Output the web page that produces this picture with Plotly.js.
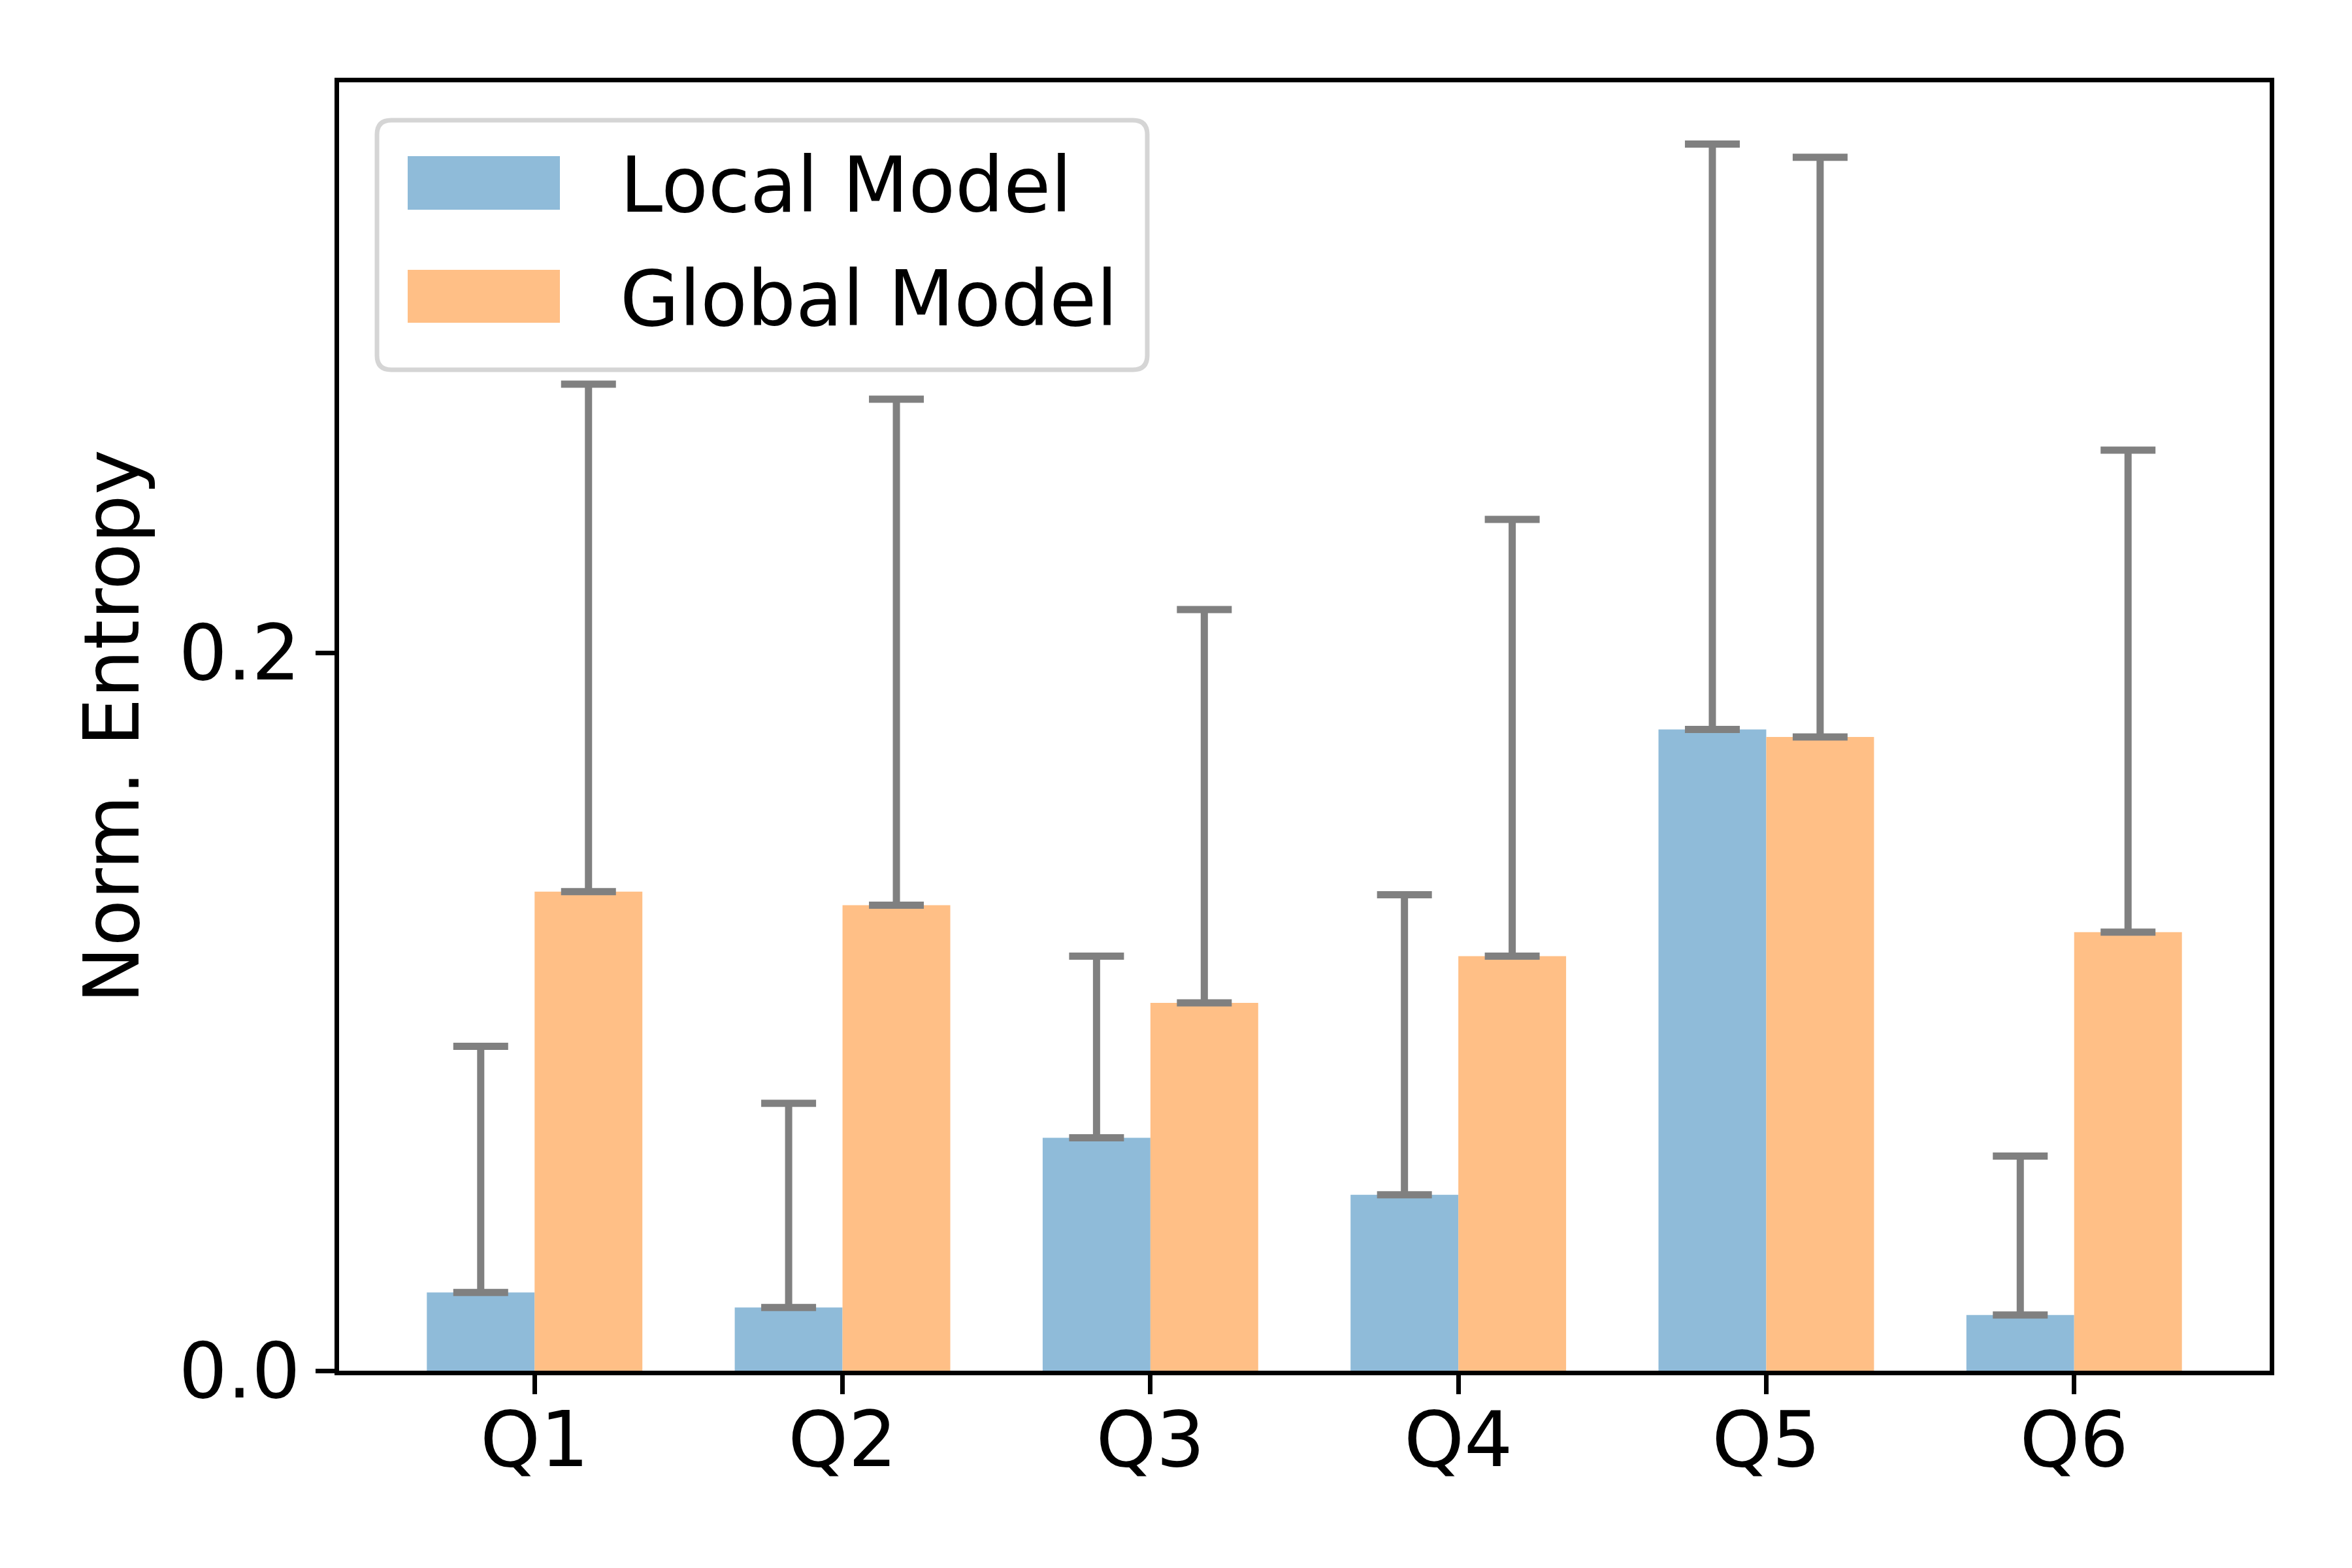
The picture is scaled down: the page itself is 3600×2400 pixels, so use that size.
<!DOCTYPE html>
<html>
<head>
<meta charset="utf-8">
<script src="https://cdn.plot.ly/plotly-3.0.1.min.js"></script>
<style>
html,body{margin:0;padding:0;background:#fff;}
#chart{width:3600px;height:2400px;}
</style>
</head>
<body>
<div id="chart"></div>
<script>
// ---- data ----
const categories = ["Q1", "Q2", "Q3", "Q4", "Q5", "Q6"];
const seriesNames = ["Local Model", "Global Model"];
const localMean = [0.0218, 0.0176, 0.0649, 0.0490, 0.1787, 0.0155];
const localErr  = [0.0686, 0.0569, 0.0506, 0.0836, 0.1631, 0.0443];
const globalMean = [0.1335, 0.1297, 0.1025, 0.1155, 0.1766, 0.1222];
const globalErr  = [0.1414, 0.1410, 0.1096, 0.1217, 0.1615, 0.1343];
const yTickVals = [0.0, 0.2];
const yTickText = ["0.0", "0.2"];

// ---- style ----
const blue = "#8fbbd9";
const orange = "#ffbf86";
const errColor = "#808080";
const FONT = "DejaVu Sans";
const FS = 117;

const W = 3600, H = 2400;
const L = 519, R = 126, T = 126, B = 302;
const pw = W - L - R, ph = H - T - B;
const px = v => (v - L) / pw;
const py = v => (H - B - v) / ph;

const xIdx = categories.map((c, i) => i);
const zeros = categories.map(() => 0);

function errObj(arr) {
  return {type: "data", symmetric: false, array: arr, arrayminus: zeros,
          color: errColor, thickness: 11, width: 42, visible: true};
}

const traces = [
  {type: "bar", name: seriesNames[0], x: xIdx, y: localMean,
   marker: {color: blue, line: {width: 0}}, error_y: errObj(localErr), showlegend: false},
  {type: "bar", name: seriesNames[1], x: xIdx, y: globalMean,
   marker: {color: orange, line: {width: 0}}, error_y: errObj(globalErr), showlegend: false}
];

// legend drawn as layout shapes + annotations
function roundRect(x0, y0, x1, y1, rpx) {
  const rx = rpx / pw, ry = rpx / ph;
  return `M${x0 + rx},${y1} L${x1 - rx},${y1} Q${x1},${y1} ${x1},${y1 - ry} ` +
         `L${x1},${y0 + ry} Q${x1},${y0} ${x1 - rx},${y0} L${x0 + rx},${y0} ` +
         `Q${x0},${y0} ${x0},${y0 + ry} L${x0},${y1 - ry} Q${x0},${y1} ${x0 + rx},${y1} Z`;
}
const legColors = [blue, orange];
const legRows = [[239, 321], [413, 494]];
const shapes = [{
  type: "path", xref: "paper", yref: "paper",
  path: roundRect(px(577), py(566), px(1756), py(184), 22),
  fillcolor: "rgba(255,255,255,0.8)", line: {color: "#d5d5d5", width: 7}, layer: "above"
}];
const annotations = [];
legRows.forEach((r, i) => {
  shapes.push({type: "rect", xref: "paper", yref: "paper",
    x0: px(624), x1: px(857), y0: py(r[1]), y1: py(r[0]),
    fillcolor: legColors[i], line: {width: 0}, layer: "above"});
  annotations.push({xref: "paper", yref: "paper", x: px(947), y: py((r[0] + r[1]) / 2 + 4),
    xanchor: "left", yanchor: "middle", showarrow: false, text: seriesNames[i],
    font: {family: FONT, size: FS, color: "#000"}});
});

const layout = {
  width: W, height: H,
  margin: {l: L, r: R, t: T, b: B, pad: 0},
  paper_bgcolor: "#fff", plot_bgcolor: "#fff",
  font: {family: FONT, size: FS, color: "#000"},
  barmode: "group", bargap: 0.3, bargroupgap: 0,
  showlegend: false,
  xaxis: {
    range: [-0.635, 5.635], tickmode: "array", tickvals: xIdx, ticktext: categories,
    ticks: "outside", ticklen: 29, tickwidth: 7, tickcolor: "#000",
    ticklabelstandoff: -30,
    showline: true, linecolor: "#000", linewidth: 7, mirror: true,
    showgrid: false, zeroline: false, automargin: false,
    tickfont: {family: FONT, size: FS, color: "#000"}
  },
  yaxis: {
    range: [0, 0.359], tickmode: "array", tickvals: yTickVals, ticktext: yTickText,
    ticks: "outside", ticklen: 29, tickwidth: 7, tickcolor: "#000",
    showline: true, linecolor: "#000", linewidth: 7, mirror: true,
    showgrid: false, zeroline: false, automargin: false,
    tickfont: {family: FONT, size: FS, color: "#000"},
    title: {text: "Norm. Entropy", font: {family: FONT, size: FS, color: "#000"}, standoff: 24}
  },
  shapes: shapes,
  annotations: annotations
};

Plotly.newPlot("chart", traces, layout, {staticPlot: true, displayModeBar: false});
</script>
</body>
</html>
